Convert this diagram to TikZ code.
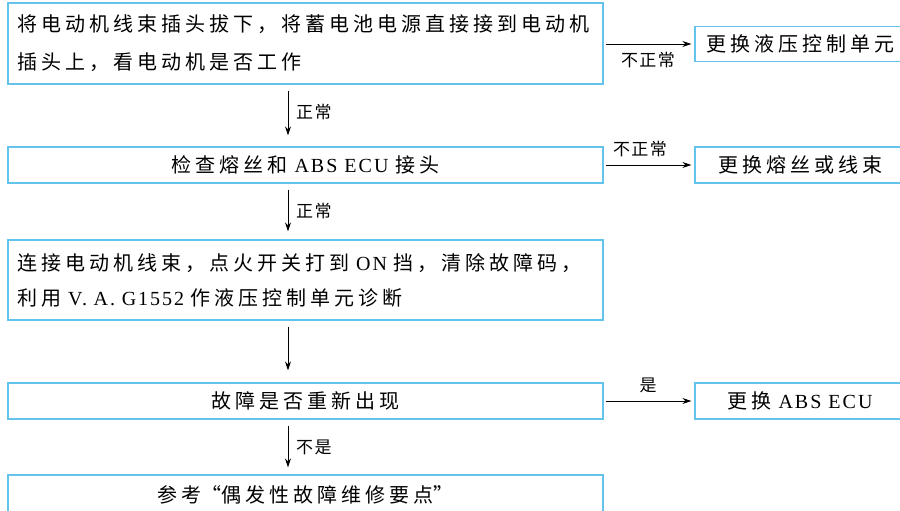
\documentclass[tikz,border=0pt]{standalone}
\usepackage{fontspec}
\usetikzlibrary{arrows.meta}
\setmainfont[LetterSpace=10]{Liberation Serif}
\newfontfamily\cjkw[LetterSpace=20]{Noto Sans CJK SC}
\newfontfamily\cjkn[LetterSpace=8]{Noto Sans CJK SC}
\newcommand\zh[1]{{\cjkw #1}}
\definecolor{boxblue}{RGB}{100,195,235}
\begin{document}
\begin{tikzpicture}[x=1pt,y=-1pt,
  box/.style={draw=boxblue,line width=1.2pt,inner sep=0pt,font=\fontsize{20}{24}\selectfont},
  flow/.style={-{Stealth[length=9pt,width=6pt]},line width=0.8pt},
  lbl/.style={inner sep=0pt,font=\fontsize{17}{20}\selectfont\cjkn}]
\useasboundingbox (0,0) rectangle (900,511);
% main column
\node[box,minimum width=595pt,minimum height=81pt,text width=576pt,align=left,font=\fontsize{20}{38}\selectfont] (b1) at (305.5,43.5)
  {\zh{将电动机线束插头拔下，将蓄电池电源直接接到电动机}\\\zh{插头上，看电动机是否工作}};
\node[box,minimum width=595pt,minimum height=36pt] (b2) at (305.5,165)
  {\zh{检查熔丝和} ABS ECU \zh{接头}};
\node[box,minimum width=595pt,minimum height=80pt,text width=576pt,align=left,font=\fontsize{20}{35}\selectfont] (b3) at (305.5,280)
  {\zh{连接电动机线束，点火开关打到} ON \zh{挡，清除故障码，}\\\zh{利用} V. A. G1552 \zh{作液压控制单元诊断}};
\node[box,minimum width=595pt,minimum height=36pt] (b4) at (305.5,401)
  {\zh{故障是否重新出现}};
\node[box,minimum width=595pt,minimum height=40pt] (b5) at (305.5,495)
  {\zh{参考}{\cjkn“}\zh{偶发性故障维修要点}{\cjkn”}};
% right column
\node[box,minimum width=210pt,minimum height=35.5pt] (r1) at (800,44)
  {\zh{更换液压控制单元}};
\node[box,minimum width=210pt,minimum height=36pt] (r2) at (800,165)
  {\zh{更换熔丝或线束}};
\node[box,minimum width=210pt,minimum height=36pt] (r4) at (800,401)
  {\zh{更换} ABS ECU};
% vertical connectors
\coordinate (ax) at (288,0);
\draw[flow,shorten <=6pt,shorten >=11pt] (b1.south -| ax) -- (b2.north -| ax);
\draw[flow,shorten <=6pt,shorten >=8pt] (b2.south -| ax) -- (b3.north -| ax);
\draw[flow,shorten <=6pt,shorten >=12pt] (b3.south -| ax) -- (b4.north -| ax);
\draw[flow,shorten <=6pt,shorten >=7pt] (b4.south -| ax) -- (b5.north -| ax);
% horizontal connectors
\draw[flow,shorten <=2pt,shorten >=3pt] (b1.east |- r1.west) -- (r1.west);
\draw[flow,shorten <=2pt,shorten >=3pt] (b2.east |- r2.west) -- (r2.west);
\draw[flow,shorten <=2pt,shorten >=3pt] (b4.east |- r4.west) -- (r4.west);
% labels
\node[lbl] (l1) at (648,60) {不正常};
\node[lbl] (l2) at (640,149) {不正常};
\node[lbl,anchor=west] (l3) at (296,112) {正常};
\node[lbl,anchor=west] (l4) at (296,211) {正常};
\node[lbl] (l5) at (648,385) {是};
\node[lbl,anchor=west] (l6) at (296,447) {不是};
\end{tikzpicture}
\end{document}
